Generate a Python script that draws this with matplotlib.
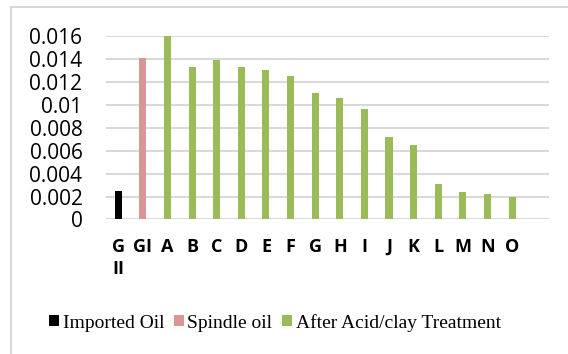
import matplotlib
matplotlib.use("Agg")
from matplotlib import pyplot as plt
from matplotlib.lines import Line2D

# data
imported_labels = ["G\nII"]
imported_values = [0.0025]
spindle_labels = ["GI"]
spindle_values = [0.0141]
treated_labels = ["A", "B", "C", "D", "E", "F", "G", "H", "I", "J", "K", "L", "M", "N", "O"]
treated_values = [0.0160, 0.0133, 0.0139, 0.0133, 0.0130, 0.0125, 0.0110, 0.0106,
                  0.0096, 0.0072, 0.0065, 0.0031, 0.0024, 0.0022, 0.0020]
y_ticks = [0, 0.002, 0.004, 0.006, 0.008, 0.01, 0.012, 0.014, 0.016]
y_ticklabels = ["0", "0.002", "0.004", "0.006", "0.008", "0.01", "0.012", "0.014", "0.016"]

labels = imported_labels + spindle_labels + treated_labels
n_imp = len(imported_values)
n_spi = len(spindle_values)
x_imp = list(range(n_imp))
x_spi = list(range(n_imp, n_imp + n_spi))
x_tre = list(range(n_imp + n_spi, n_imp + n_spi + len(treated_values)))

fig = plt.figure(figsize=(5.68, 3.54), dpi=100)
ax = fig.add_axes([0.1866, 0.380, 0.7799, 0.518])

w = 0.285
ax.bar(x_imp, imported_values, width=w, color="#000000", label="Imported Oil", zorder=3)
ax.bar(x_spi, spindle_values, width=w, color="#d99694", label="Spindle oil", zorder=3)
ax.bar(x_tre, treated_values, width=w, color="#9bbb59", label="After Acid/clay Treatment", zorder=3)

ax.set_xlim(-0.5, len(labels) + 0.5)  # one empty slot at the right, like the original
ax.set_ylim(0, 0.016)
ax.set_yticks(y_ticks)
ax.set_yticklabels(y_ticklabels, fontsize=15, family="Open Sans")
ax.set_xticks(range(len(labels)))
ax.set_xticklabels(labels, fontsize=13, fontweight="bold", family="Open Sans", linespacing=1.35)
ax.tick_params(axis="y", length=0, pad=17)
ax.tick_params(axis="x", length=0, pad=13)
ax.yaxis.grid(True, color="#d9d9d9", linewidth=1.5, zorder=0)
ax.set_axisbelow(True)
for s in ax.spines.values():
    s.set_visible(False)

leg = fig.legend(loc="center", bbox_to_anchor=(0.484, 0.088), ncol=3, frameon=False,
                 prop={"family": "Liberation Serif", "size": 14},
                 handlelength=0.5, handleheight=0.5, handletextpad=0.2, columnspacing=0.5)

# chart border (only top and left edges fall inside the crop)
fig.add_artist(Line2D([11 / 568, 11 / 568], [0, 1 - 7 / 354], color="#d9d9d9", linewidth=1.5))
fig.add_artist(Line2D([11 / 568, 1], [1 - 7 / 354, 1 - 7 / 354], color="#d9d9d9", linewidth=1.5))

fig.savefig("out.png", dpi=100)
